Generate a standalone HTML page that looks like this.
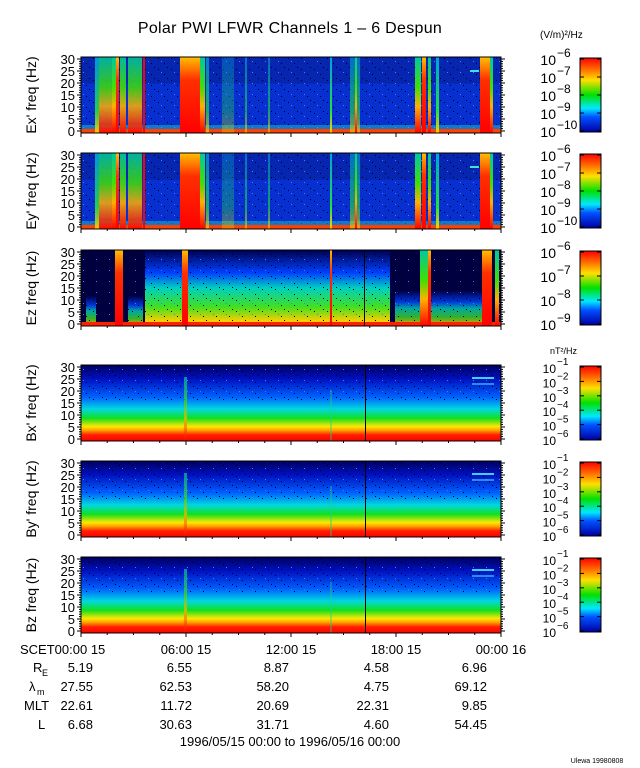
<!DOCTYPE html>
<html><head><meta charset="utf-8"><style>
body{margin:0;background:#fff;width:640px;height:768px;overflow:hidden}
svg{display:block;font-family:"Liberation Sans",sans-serif}
text{fill:#000}
</style></head><body>
<svg id="s" width="640" height="768" viewBox="0 0 640 768" xmlns="http://www.w3.org/2000/svg">
<defs>
<linearGradient id="cb" x1="0" y1="0" x2="0" y2="1">
<stop offset="0" stop-color="#ff0000"/><stop offset="0.15" stop-color="#ff6a00"/><stop offset="0.3" stop-color="#ffe000"/><stop offset="0.5" stop-color="#00e000"/><stop offset="0.68" stop-color="#00e8ff"/><stop offset="0.8" stop-color="#0050ff"/><stop offset="1" stop-color="#0000a0"/>
</linearGradient>
<linearGradient id="bg" x1="0" y1="1" x2="0" y2="0">
<stop offset="0" stop-color="#ff0000"/><stop offset="0.08" stop-color="#ff2000"/><stop offset="0.14" stop-color="#ffa000"/><stop offset="0.19" stop-color="#ffe800"/><stop offset="0.3" stop-color="#10e020"/><stop offset="0.42" stop-color="#00d8e0"/><stop offset="0.58" stop-color="#0060ff"/><stop offset="0.82" stop-color="#0010c0"/><stop offset="1" stop-color="#000060"/>
</linearGradient>
<linearGradient id="burst" x1="0" y1="1" x2="0" y2="0">
<stop offset="0" stop-color="#ff0000"/><stop offset="0.35" stop-color="#ffb000"/><stop offset="0.6" stop-color="#40e000"/><stop offset="1" stop-color="#00c8a0"/>
</linearGradient>
<linearGradient id="weak" x1="0" y1="1" x2="0" y2="0">
<stop offset="0" stop-color="#ffd000"/><stop offset="0.3" stop-color="#20e040"/><stop offset="1" stop-color="#00a0e0"/>
</linearGradient>
<linearGradient id="hot" x1="0" y1="1" x2="0" y2="0">
<stop offset="0" stop-color="#ff0000"/><stop offset="0.7" stop-color="#ff3000"/><stop offset="1" stop-color="#ffc000"/>
</linearGradient>
<linearGradient id="ezg" x1="0" y1="1" x2="0" y2="0">
<stop offset="0" stop-color="#ff0000"/><stop offset="0.06" stop-color="#ffd000"/><stop offset="0.25" stop-color="#40e020"/><stop offset="0.5" stop-color="#00d0c0"/><stop offset="0.7" stop-color="#0040ff"/><stop offset="1" stop-color="#000050"/>
</linearGradient>
<pattern id="spk" width="13" height="11" patternUnits="userSpaceOnUse">
<rect x="2" y="3" width="1" height="1" fill="#000"/><rect x="8" y="8" width="1" height="1" fill="#000"/><rect x="11" y="1" width="1" height="1" fill="#000"/><rect x="5" y="6" width="1" height="1" fill="#4080ff"/>
</pattern>
</defs>
<g id="plots"></g>
<text x="290" y="33" font-size="16" text-anchor="middle" letter-spacing="0.3">Polar PWI LFWR Channels 1 – 6 Despun</text>
<text x="540" y="38" font-size="10">(V/m)²/Hz</text>
<text x="577" y="354" font-size="9" text-anchor="end">nT²/Hz</text>
<g font-size="13">
<text x="20" y="654">SCET00:00 15</text>
<text x="186" y="654" text-anchor="middle">06:00 15</text>
<text x="291" y="654" text-anchor="middle">12:00 15</text>
<text x="396" y="654" text-anchor="middle">18:00 15</text>
<text x="501" y="654" text-anchor="middle">00:00 16</text>
<text x="33" y="672">R</text><text x="42" y="676" font-size="9">E</text>
<text x="29" y="691">λ</text><text x="37" y="695" font-size="9">m</text>
<text x="24" y="710">MLT</text>
<text x="38" y="729">L</text>
<g text-anchor="end">
<text x="93" y="672">5.19</text><text x="192" y="672">6.55</text><text x="289" y="672">8.87</text><text x="389" y="672">4.58</text><text x="487" y="672">6.96</text>
<text x="93" y="691">27.55</text><text x="192" y="691">62.53</text><text x="289" y="691">58.20</text><text x="389" y="691">4.75</text><text x="487" y="691">69.12</text>
<text x="93" y="710">22.61</text><text x="192" y="710">11.72</text><text x="289" y="710">20.69</text><text x="389" y="710">22.31</text><text x="487" y="710">9.85</text>
<text x="93" y="729">6.68</text><text x="192" y="729">30.63</text><text x="289" y="729">31.71</text><text x="389" y="729">4.60</text><text x="487" y="729">54.45</text>
</g>
<text x="290" y="746" text-anchor="middle">1996/05/15 00:00 to 1996/05/16 00:00</text>
</g>
<text x="597" y="763" font-size="7" text-anchor="middle">Ulewa 19980808</text>
</svg>
<script>
var g=document.getElementById('plots'),h='';
var X0=81,X1=501,H=76;
var tops=[57,153,250,365,461,557];
var labels=["Ex' freq (Hz)","Ey' freq (Hz)","Ez freq (Hz)","Bx' freq (Hz)","By' freq (Hz)","Bz freq (Hz)"];
function R(x,y,w,hh,f,o){return '<rect x="'+x+'" y="'+y+'" width="'+w+'" height="'+hh+'" fill="'+f+'"'+(o?' opacity="'+o+'"':'')+'/>';}
var Eb=[[95,4,'weak',0.9],[99,14,'burst',0.85],[112,4,'burst'],[116,3,'hot'],[120,6,'burst',0.9],[128,14,'burst',0.85],[143,2,'#ff0000'],[180,22,'hot'],[200,5,'burst'],[206,3,'weak',0.7],[222,12,'weak',0.35],[245,2,'weak',0.6],[268,2,'weak',0.6],[330,2,'weak'],[350,10,'weak',0.6],[355,2,'burst'],[415,6,'burst'],[422,4,'hot'],[428,3,'burst'],[436,3,'weak'],[480,10,'hot'],[490,3,'burst']];
for(var i=0;i<6;i++){
 var t=tops[i];
 if(i<2){
  h+=R(X0,t,X1-X0,H,'#0830d0');
  h+=R(X0,t,X1-X0,H*0.35,'#031a90',0.5);
  h+=R(X0,t,X1-X0,H,'url(#spk)');
  h+=R(X0,t+H-4,X1-X0,4,'#ff4000');
  h+=R(X0,t+H-8,X1-X0,4,'#20c0c0',0.5);
  Eb.forEach(function(b){h+=R(b[0],t,b[1],H,b[2].charAt(0)=='#'?b[2]:'url(#'+b[2]+')',b[3]);});
  h+=R(470,t+13,9,2,'#40e0e0');
 } else if(i==2){
  h+=R(X0,t,X1-X0,H,'#000040');
  h+=R(145,t,245,H,'url(#ezg)');
  h+=R(86,t+H-30,10,30,'url(#ezg)',0.8);
  h+=R(128,t+H-30,15,30,'url(#ezg)',0.8);
  h+=R(395,t+H-35,90,35,'url(#ezg)',0.8);
  h+=R(X0,t,X1-X0,H,'url(#spk)');
  h+=R(X0,t+H-4,X1-X0,4,'#ff2000');
  [[115,8,'hot'],[182,6,'hot'],[330,2,'hot'],[420,10,'burst'],[428,3,'hot'],[482,10,'hot'],[495,4,'burst']].forEach(function(b){h+=R(b[0],t,b[1],H,'url(#'+b[2]+')');});
  h+=R(364,t,1,H,'#000');
 } else {
  h+=R(X0,t,X1-X0,H,'url(#bg)');
  h+=R(X0,t,X1-X0,H*0.5,'url(#spk)');
  h+=R(184,t+12,3,H-12,'url(#burst)',0.7);
  h+=R(330,t+25,2,H-25,'#20d080',0.4);
  h+=R(365,t,1,H,'#000');
  h+=R(472,t+12,22,2,'#40d0ff');h+=R(472,t+18,22,2,'#40d0ff',0.6);
 }
 h+='<rect x="'+X0+'" y="'+t+'" width="'+(X1-X0)+'" height="'+H+'" fill="none" stroke="#000" stroke-width="1"/>';
 for(var k=0;k<=30;k++){var y=t+H-2-k*(H-4)/30;var L=(k%5==0)?4:2;h+='<line x1="'+(X0-L)+'" y1="'+y+'" x2="'+X0+'" y2="'+y+'" stroke="#000"/><line x1="'+X1+'" y1="'+y+'" x2="'+(X1+L)+'" y2="'+y+'" stroke="#000"/>';
  if(k%5==0)h+='<text x="'+(X0-6)+'" y="'+(y+5)+'" font-size="13" text-anchor="end">'+k+'</text>';}
 for(var m=0;m<=16;m++){var x=X0+m*(X1-X0)/16;var L2=(m%4==0)?4:2;h+='<line x1="'+x+'" y1="'+(t+H)+'" x2="'+x+'" y2="'+(t+H+L2)+'" stroke="#000"/>';}
 h+='<text transform="translate(36,'+(t+H/2)+') rotate(-90)" font-size="14" text-anchor="middle">'+labels[i]+'</text>';
 h+=R(580,t+1,21,H-2,'url(#cb)');
 h+='<rect x="580" y="'+(t+1)+'" width="21" height="'+(H-2)+'" fill="none" stroke="#000"/>';
 var ex=i<2?[6,7,8,9,10]:(i==2?[6,7,8,9]:[1,2,3,4,5,6]);
 var n=ex.length;
 ex.forEach(function(e,j){var y=t+2+j*(H-4)/(n-1);
  var fs=n>5?12:14;
  h+='<text x="556" y="'+(y+6)+'" font-size="'+fs+'" text-anchor="end">10</text><text x="557" y="'+(y-2)+'" font-size="'+(fs-2)+'">−'+e+'</text>';
  h+='<line x1="580" y1="'+y+'" x2="584" y2="'+y+'" stroke="#000"/><line x1="597" y1="'+y+'" x2="601" y2="'+y+'" stroke="#000"/>';});
}
g.innerHTML=h;
</script>
</body></html>
